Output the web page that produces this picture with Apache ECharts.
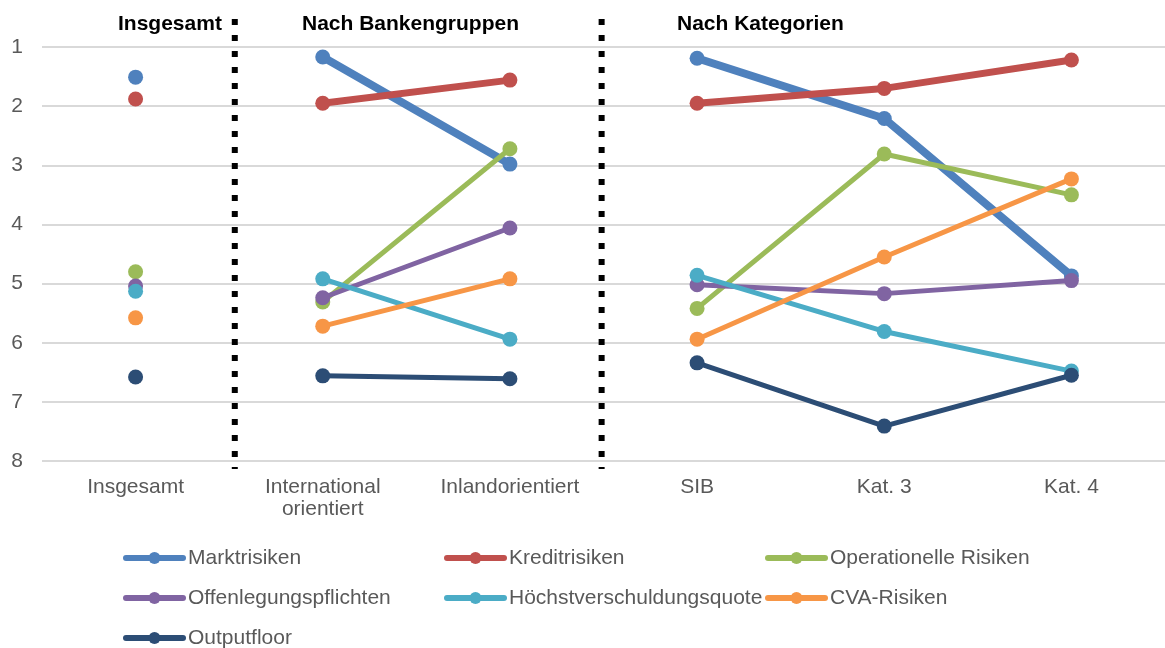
<!DOCTYPE html>
<html>
<head>
<meta charset="utf-8">
<script src="https://cdn.jsdelivr.net/npm/echarts@6/dist/echarts.min.js"></script>
<style>
  html, body { margin: 0; padding: 0; background: #fff; }
  #rangChart { width: 1165px; height: 648px; }
</style>
</head>
<body>
<div id="rangChart"></div>
<script>
  const font = 'Liberation Sans, Arial, sans-serif';
  const categories = ['Insgesamt', 'International\norientiert', 'Inlandorientiert', 'SIB', 'Kat. 3', 'Kat. 4'];

  // Rang je Risikobereich: Insgesamt | International, Inland | SIB, Kat. 3, Kat. 4
  const risks = [
    {name: 'Marktrisiken', color: '#4F81BD', width: 8, data: [1.51, 1.17, 2.98, 1.19, 2.21, 4.87]},
    {name: 'Kreditrisiken', color: '#C0504D', width: 7, data: [1.88, 1.95, 1.56, 1.95, 1.70, 1.22]},
    {name: 'Operationelle Risiken', color: '#9BBB59', width: 5, data: [4.80, 5.31, 2.72, 5.42, 2.81, 3.50]},
    {name: 'Offenlegungspflichten', color: '#8064A2', width: 5, data: [5.04, 5.24, 4.06, 5.02, 5.17, 4.95]},
    {name: 'Höchstverschuldungsquote', color: '#4BACC6', width: 5, data: [5.13, 4.92, 5.94, 4.86, 5.81, 6.48]},
    {name: 'CVA-Risiken', color: '#F79646', width: 5, data: [5.58, 5.72, 4.92, 5.94, 4.55, 3.23]},
    {name: 'Outputfloor', color: '#2C4D75', width: 5, data: [6.58, 6.56, 6.61, 6.34, 7.41, 6.55]},
  ];
  const groups = [[0, 0], [1, 2], [3, 5]];

  const series = [];
  // gepunktete Trennlinien zwischen den Gruppen
  [1.03, 2.99].forEach(function (pos) {
    series.push({
      type: 'line',
      xAxisIndex: 1,
      yAxisIndex: 1,
      data: [[pos, 1], [pos, 0]],
      symbol: 'none',
      silent: true,
      lineStyle: {color: '#000', width: 6, type: [6, 10]},
      z: 1,
    });
  });
  risks.forEach(function (r) {
    groups.forEach(function (g) {
      series.push({
        name: r.name,
        type: 'line',
        data: r.data.map(function (v, i) { return (i >= g[0] && i <= g[1]) ? v : null; }),
        symbol: 'circle',
        symbolSize: 15,
        showSymbol: true,
        connectNulls: false,
        itemStyle: {color: r.color},
        lineStyle: {color: r.color, width: r.width, cap: 'round'},
        z: 3,
      });
    });
  });

  const legendBase = {
    orient: 'vertical',
    top: 547,
    height: 110,
    padding: 0,
    itemGap: 18,
    itemWidth: 57,
    itemHeight: 15,
    lineStyle: {width: 6, cap: 'round'},
    textStyle: {fontSize: 21, lineHeight: 22, color: '#595959', fontFamily: font},
  };
  const headerStyle = {fontSize: 21, fontWeight: 'bold', color: '#000', fontFamily: font};

  const chart = echarts.init(document.getElementById('rangChart'));
  chart.setOption({
    animation: false,
    title: [
      {text: 'Insgesamt', left: 118, top: 14, padding: 0, textStyle: headerStyle},
      {text: 'Nach Bankengruppen', left: 302, top: 14, padding: 0, textStyle: headerStyle},
      {text: 'Nach Kategorien', left: 677, top: 14, padding: 0, textStyle: headerStyle},
    ],
    legend: [
      Object.assign({left: 123, data: ['Marktrisiken', 'Offenlegungspflichten', 'Outputfloor']}, legendBase),
      Object.assign({left: 444, data: ['Kreditrisiken', 'Höchstverschuldungsquote']}, legendBase),
      Object.assign({left: 765, data: ['Operationelle Risiken', 'CVA-Risiken']}, legendBase),
    ],
    grid: [
      {left: 42, width: 1133, top: 47, height: 414},
      {left: 42, width: 1133, top: 19, height: 450},
    ],
    xAxis: [
      {
        type: 'category',
        gridIndex: 0,
        data: categories,
        boundaryGap: true,
        axisLine: {show: false},
        axisTick: {show: false},
        axisLabel: {color: '#595959', fontSize: 21, fontFamily: font, margin: 15, lineHeight: 22, interval: 0},
      },
      {type: 'value', gridIndex: 1, min: 0, max: 6, show: false},
    ],
    yAxis: [
      {
        type: 'value',
        gridIndex: 0,
        inverse: true,
        min: 1,
        max: 8,
        interval: 1,
        axisLine: {show: false},
        axisTick: {show: false},
        axisLabel: {color: '#595959', fontSize: 21, fontFamily: font, margin: 19},
        splitLine: {lineStyle: {color: '#D9D9D9', width: 2}},
      },
      {type: 'value', gridIndex: 1, min: 0, max: 1, show: false},
    ],
    series: series,
  });
</script>
</body>
</html>
